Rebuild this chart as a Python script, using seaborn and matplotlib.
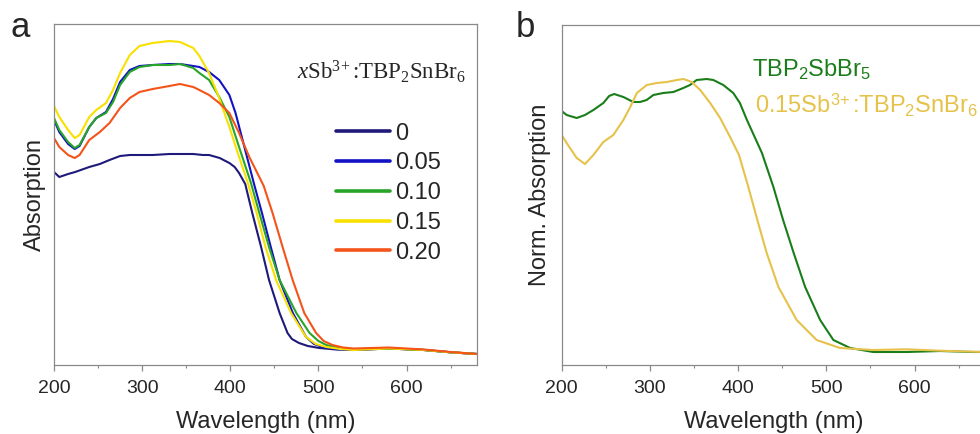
import numpy as np
import pandas as pd
import matplotlib
matplotlib.use("Agg")
import matplotlib.pyplot as plt
import seaborn as sns
from matplotlib.ticker import MultipleLocator
from matplotlib.lines import Line2D

# ---------------- data (panel a) ----------------
series_labels = ["0", "0.05", "0.10", "0.15", "0.20"]

wl_x000 = [200, 206, 216, 224, 240, 252, 263, 275, 286, 312, 331, 358, 369, 376, 388, 399, 405, 410, 417,
           425, 435, 444, 456, 465, 470, 478, 488, 501, 520, 540, 580, 620, 650, 680]
abs_x000 = [1.93, 1.88, 1.91, 1.93, 1.98, 2.01, 2.05, 2.09, 2.10, 2.10, 2.11, 2.11, 2.10, 2.10, 2.07, 2.02,
            1.98, 1.92, 1.81, 1.52, 1.18, 0.85, 0.52, 0.32, 0.26, 0.22, 0.19, 0.17, 0.155, 0.15, 0.165,
            0.15, 0.127, 0.11]

wl_x005 = [200, 206, 216, 223.5, 229, 240, 248, 259, 267, 275, 286, 297, 312, 331, 343, 358, 365, 376,
           387.5, 399, 406, 414, 427, 436, 446, 456, 471, 486, 495, 505, 520, 540, 580, 620, 650, 680]
abs_x005 = [2.45, 2.33, 2.21, 2.16, 2.19, 2.38, 2.47, 2.53, 2.66, 2.83, 2.95, 2.99, 3.00, 3.01, 3.01, 2.99,
            2.98, 2.93, 2.85, 2.70, 2.52, 2.25, 1.81, 1.52, 1.18, 0.85, 0.52, 0.28, 0.21, 0.18, 0.16, 0.15,
            0.165, 0.15, 0.127, 0.11]

wl_x010 = [200, 206, 216, 223.5, 229, 240, 248, 259, 267, 275, 286, 297, 312, 331, 343, 358, 365, 376,
           387.5, 399, 410, 423.5, 433, 444, 456, 475, 490, 500, 509, 525, 540, 580, 620, 650, 680]
abs_x010 = [2.47, 2.35, 2.23, 2.17, 2.20, 2.38, 2.47, 2.52, 2.63, 2.80, 2.93, 2.98, 3.00, 3.00, 3.01, 2.97,
            2.92, 2.85, 2.68, 2.48, 2.18, 1.82, 1.52, 1.18, 0.85, 0.52, 0.32, 0.24, 0.20, 0.165, 0.155,
            0.165, 0.15, 0.127, 0.11]

wl_x015 = [200, 206, 216, 223.5, 229, 240, 248, 259, 267, 275, 286, 297, 312, 331, 343, 358, 365, 376,
           387, 399, 410, 420, 430, 440, 452, 469, 486, 497, 509, 525, 540, 580, 620, 650, 680]
abs_x015 = [2.59, 2.48, 2.35, 2.27, 2.30, 2.48, 2.55, 2.62, 2.75, 2.92, 3.10, 3.19, 3.22, 3.24, 3.23, 3.17,
            3.09, 2.92, 2.68, 2.38, 2.08, 1.82, 1.52, 1.18, 0.85, 0.52, 0.28, 0.21, 0.18, 0.16, 0.15,
            0.165, 0.15, 0.127, 0.11]

wl_x020 = [200, 206, 216, 223.5, 229, 240, 252, 263, 275, 286, 297, 312, 331, 343, 358, 365, 376, 387.5,
           399, 410, 421.6, 429, 438, 448, 459.4, 470.8, 484, 497.4, 506, 516, 528, 540, 580, 620, 650, 680]
abs_x020 = [2.27, 2.18, 2.10, 2.07, 2.10, 2.25, 2.33, 2.42, 2.57, 2.67, 2.73, 2.76, 2.79, 2.81, 2.78, 2.75,
            2.70, 2.62, 2.52, 2.32, 2.08, 1.95, 1.79, 1.52, 1.18, 0.85, 0.52, 0.32, 0.24, 0.20, 0.175, 0.165,
            0.175, 0.155, 0.13, 0.11]

# ---------------- data (panel b) ----------------
label_sb = "TBP2SbBr5"
label_dop = "0.15Sb:TBP2SnBr6"

wl_sb = [200, 205.6, 217, 226.4, 235.9, 247.2, 253.8, 259.5, 269.9, 281.2, 288.8, 296.3, 303.9, 315.2,
         326.6, 337.9, 345.4, 353, 364.4, 371.9, 383.2, 394.5, 402, 410, 427, 440, 451, 463, 476, 493,
         508, 527, 553, 591, 629, 667, 680]
abs_sb = [2.54, 2.50, 2.47, 2.50, 2.55, 2.62, 2.69, 2.71, 2.68, 2.63, 2.63, 2.65, 2.70, 2.72, 2.73, 2.77,
          2.80, 2.85, 2.86, 2.85, 2.80, 2.72, 2.62, 2.45, 2.12, 1.78, 1.45, 1.12, 0.78, 0.45, 0.25, 0.17,
          0.13, 0.13, 0.14, 0.13, 0.13]

wl_dop = [200, 205.6, 217, 226.4, 235.9, 247.2, 258.5, 269.9, 277.7, 285.2, 296.5, 307.8, 319.2, 330.5,
          338, 347.5, 357, 368.3, 379.6, 390.9, 401, 411.6, 421.8, 432.4, 445.7, 466.4, 489, 515.5, 553,
          591, 629, 667, 680]
abs_dop = [2.30, 2.22, 2.07, 2.01, 2.10, 2.23, 2.30, 2.45, 2.58, 2.72, 2.80, 2.82, 2.83, 2.85, 2.86, 2.83,
           2.75, 2.62, 2.47, 2.28, 2.10, 1.78, 1.45, 1.12, 0.78, 0.45, 0.25, 0.17, 0.15, 0.157, 0.143,
           0.133, 0.13]

colors_a = ["#1f1a7a", "#1212c4", "#28a428", "#f8e000", "#f4531a"]
color_sb = "#1a7d1a"
color_dop = "#e6c24a"

# ---------------- build long-form tables ----------------
wl_a = [wl_x000, wl_x005, wl_x010, wl_x015, wl_x020]
abs_a = [abs_x000, abs_x005, abs_x010, abs_x015, abs_x020]
df_a = pd.concat([pd.DataFrame({"wl": w, "A": a, "x": lab}) for w, a, lab in zip(wl_a, abs_a, series_labels)],
                 ignore_index=True)
df_b = pd.concat([pd.DataFrame({"wl": wl_sb, "A": abs_sb, "s": label_sb}),
                  pd.DataFrame({"wl": wl_dop, "A": abs_dop, "s": label_dop})], ignore_index=True)

# ---------------- style ----------------
sns.set_style("white")
plt.rcParams["font.family"] = ["Liberation Sans", "DejaVu Sans"]
plt.rcParams["mathtext.fontset"] = "custom"
plt.rcParams["mathtext.rm"] = "Liberation Serif"
plt.rcParams["mathtext.it"] = "Liberation Serif:italic"
plt.rcParams["mathtext.sf"] = "Liberation Sans"

W, H = 980, 434
fig = plt.figure(figsize=(W / 100, H / 100), dpi=100)
ax_a = fig.add_axes([54 / W, (H - 365) / H, 423 / W, 341 / H])
ax_b = fig.add_axes([561.7 / W, (H - 365) / H, 423.4 / W, 340 / H])

sns.lineplot(data=df_a, x="wl", y="A", hue="x", palette=colors_a, estimator=None, sort=False,
             linewidth=1.5, ax=ax_a, legend=False)
sns.lineplot(data=df_b, x="wl", y="A", hue="s", palette=[color_sb, color_dop], estimator=None, sort=False,
             linewidth=1.5, ax=ax_b, legend=False)

spine_col = "#8a8a8a"
for ax, top in ((ax_a, 3.41), (ax_b, 3.40)):
    ax.set_xlim(200, 680)
    ax.set_ylim(0, top)
    ax.set_yticks([])
    ax.xaxis.set_major_locator(MultipleLocator(100))
    ax.xaxis.set_minor_locator(MultipleLocator(50))
    ax.tick_params(axis="x", which="major", direction="out", length=4, width=0.9, color=spine_col,
                   labelsize=14, pad=7, bottom=True)
    ax.tick_params(axis="x", which="minor", direction="out", length=2.5, width=0.8, color=spine_col,
                   bottom=True)
    for sp in ax.spines.values():
        sp.set_color(spine_col)
        sp.set_linewidth(0.9)
    ax.set_xlabel("Wavelength (nm)", fontsize=17, labelpad=10)

ax_a.set_ylabel("Absorption", fontsize=17, labelpad=6)
ax_b.set_ylabel("Norm. Absorption", fontsize=17, labelpad=8)

# legend panel a
handles = [Line2D([0], [0], color=c, lw=2.6) for c in colors_a]
ax_a.legend(handles, series_labels, loc="upper left", bbox_to_anchor=((336 - 54) / 423, (365 - 122.5) / 341),
            frameon=False, fontsize=17, handlelength=2.3, handletextpad=0.2, labelspacing=0.33,
            borderpad=0, borderaxespad=0)
ax_a.text((466 - 54) / 423, (365 - 79) / 341, r"$x$Sb$^{3\!+}$:TBP$_{2}$SnBr$_{6}$", transform=ax_a.transAxes,
          ha="right", va="baseline", fontsize=16.5, family="Liberation Serif")

# labels panel b
fig.text(752 / W, (H - 76.7) / H, r"TBP$_\mathsf{2}$SbBr$_\mathsf{5}$", color=color_sb, fontsize=17,
         ha="left", va="baseline")
fig.text(755 / W, (H - 113.3) / H, r"0.15Sb$^\mathsf{3\!+}$:TBP$_\mathsf{2}$SnBr$_\mathsf{6}$", color=color_dop,
         fontsize=17, ha="left", va="baseline")

# panel letters
fig.text(11 / W, (H - 37) / H, "a", fontsize=25, ha="left", va="baseline")
fig.text(516 / W, (H - 37) / H, "b", fontsize=25, ha="left", va="baseline")

fig.savefig("out.png", dpi=100)
